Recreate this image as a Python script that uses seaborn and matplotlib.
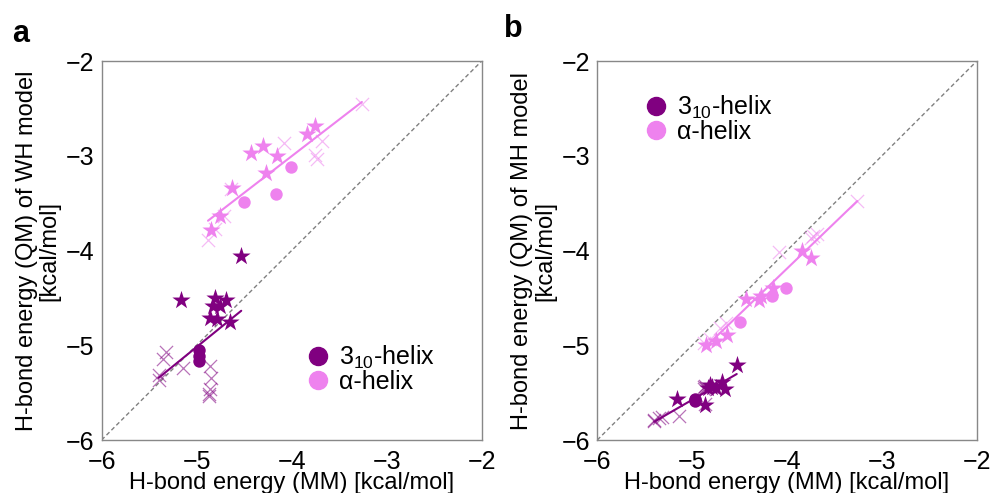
import numpy as np
import pandas as pd
import matplotlib.pyplot as plt
import seaborn as sns

sns.set_style('white')
plt.rcParams['font.family'] = ['Liberation Sans', 'DejaVu Sans']
plt.rcParams['mathtext.fontset'] = 'custom'
plt.rcParams['mathtext.rm'] = 'Liberation Sans'
plt.rcParams['mathtext.default'] = 'regular'
plt.rcParams['text.color'] = 'black'
plt.rcParams['axes.labelcolor'] = 'black'
plt.rcParams['xtick.color'] = 'black'
plt.rcParams['ytick.color'] = 'black'

# MM energies (x) shared by both panels, QM energies for WH (panel a) and MH (panel b)
# alpha-helix
mm_alpha_star = [-3.75, -3.84, -4.30, -4.43, -4.15, -4.27, -4.63, -4.75, -4.85]
wh_alpha_star = [-2.68, -2.77, -2.90, -2.97, -3.00, -3.18, -3.34, -3.64, -3.78]
mh_alpha_star = [-4.08, -4.00, -4.52, -4.51, -4.39, -4.48, -4.89, -4.95, -5.00]

mm_alpha_circ = [-4.01, -4.16, -4.50]
wh_alpha_circ = [-3.12, -3.40, -3.49]
mh_alpha_circ = [-4.40, -4.48, -4.75]

mm_alpha_cross = [-3.26, -4.08, -3.68, -3.75, -3.73, -4.64, -4.71, -4.81, -4.88]
wh_alpha_cross = [-2.45, -2.86, -2.84, -2.99, -3.03, -3.35, -3.64, -3.77, -3.89]
mh_alpha_cross = [-3.48, -4.01, -3.82, -3.87, -3.85, -4.77, -4.82, -4.93, -4.98]

# 3_10-helix
mm_310_star = [-4.53, -5.16, -4.81, -4.69, -4.83, -4.75, -4.86, -4.79, -4.65]
wh_310_star = [-4.06, -4.52, -4.50, -4.52, -4.59, -4.59, -4.71, -4.72, -4.75]
mh_310_star = [-5.21, -5.57, -5.42, -5.39, -5.45, -5.45, -5.63, -5.44, -5.46]

mm_310_circ = [-4.97, -4.97, -4.97]
wh_310_circ = [-5.05, -5.11, -5.17]
mh_310_circ = [-5.57, -5.58, -5.59]

mm_310_cross = [-5.32, -5.35, -5.14, -5.40, -5.40, -4.86, -4.85, -4.86, -4.87, -4.87]
wh_310_cross = [-5.07, -5.15, -5.24, -5.31, -5.37, -5.22, -5.35, -5.46, -5.51, -5.54]
mh_310_cross = [-5.76, -5.77, -5.75, -5.79, -5.80, -5.62, -5.45, -5.43, -5.46, -5.44]

groups = [
    ('310', 'star', mm_310_star, wh_310_star, mh_310_star),
    ('310', 'circ', mm_310_circ, wh_310_circ, mh_310_circ),
    ('310', 'cross', mm_310_cross, wh_310_cross, mh_310_cross),
    ('alpha', 'star', mm_alpha_star, wh_alpha_star, mh_alpha_star),
    ('alpha', 'circ', mm_alpha_circ, wh_alpha_circ, mh_alpha_circ),
    ('alpha', 'cross', mm_alpha_cross, wh_alpha_cross, mh_alpha_cross),
]
frames = []
for helix, kind, mm, wh, mh in groups:
    frames.append(pd.DataFrame({'helix': helix, 'kind': kind, 'mm': mm, 'wh': wh, 'mh': mh}))
df = pd.concat(frames, ignore_index=True)

colors = {'310': '#800080', 'alpha': '#ee82ee'}
marker_kw = {
    'star': dict(marker='*', s=190, linewidth=0, alpha=1.0),
    'circ': dict(marker='o', s=80, linewidth=0, alpha=1.0),
    'cross': dict(marker='x', s=90, linewidth=0.9, alpha=0.55),
}

fig = plt.figure(figsize=(9.91, 4.93), dpi=100)
ax_a = fig.add_axes([0.1025, 0.1075, 0.3835, 0.7685])
ax_b = fig.add_axes([0.6027, 0.1075, 0.3829, 0.7685])


def draw_panel(ax, col, ylabel, legend_loc, legend_anchor):
    ax.plot([-6, -2], [-6, -2], ls='--', color='grey', lw=1, dashes=(3, 2))
    for helix in ['310', 'alpha']:
        for kind in ['cross', 'star', 'circ']:
            sub = df[(df.helix == helix) & (df.kind == kind)]
            sns.scatterplot(data=sub, x='mm', y=col, ax=ax, color=colors[helix],
                            **marker_kw[kind], zorder=3)
        sub = df[df.helix == helix]
        sns.regplot(data=sub, x='mm', y=col, ax=ax, scatter=False, ci=None,
                    truncate=True, color=colors[helix], line_kws={'lw': 1.5, 'zorder': 2})
    ax.set_xlim(-6, -2)
    ax.set_ylim(-6, -2)
    ax.set_xticks([-6, -5, -4, -3, -2])
    ax.set_yticks([-6, -5, -4, -3, -2])
    ax.tick_params(labelsize=18, length=3, width=1, color='#777777')
    ax.tick_params(axis='x', pad=4)
    ax.tick_params(axis='y', pad=2)
    ax.set_xlabel('H-bond energy (MM) [kcal/mol]', fontsize=17, labelpad=-1)
    ax.set_ylabel(ylabel, fontsize=17, labelpad=4, linespacing=1.05)
    for sp in ax.spines.values():
        sp.set_color('#888888')
        sp.set_linewidth(1)
    handles = [plt.Line2D([], [], marker='o', ls='', color=colors[h], markersize=13)
               for h in ['310', 'alpha']]
    ax.legend(handles, ['3$_{10}$-helix', 'α-helix'], loc=legend_loc,
              bbox_to_anchor=legend_anchor, frameon=False, fontsize=18,
              handletextpad=0.35, labelspacing=-0.05, handlelength=1.0,
              borderaxespad=0)


draw_panel(ax_a, 'wh', 'H-bond energy (QM) of WH model\n[kcal/mol]', 'upper left', (0.51, 0.28))
draw_panel(ax_b, 'mh', 'H-bond energy (QM) of MH model\n[kcal/mol]', 'upper left', (0.095, 0.94))

fig.text(0.012, 0.915, 'a', fontsize=22, fontweight='bold')
fig.text(0.509, 0.925, 'b', fontsize=22, fontweight='bold')

fig.savefig('out.png', dpi=100)
